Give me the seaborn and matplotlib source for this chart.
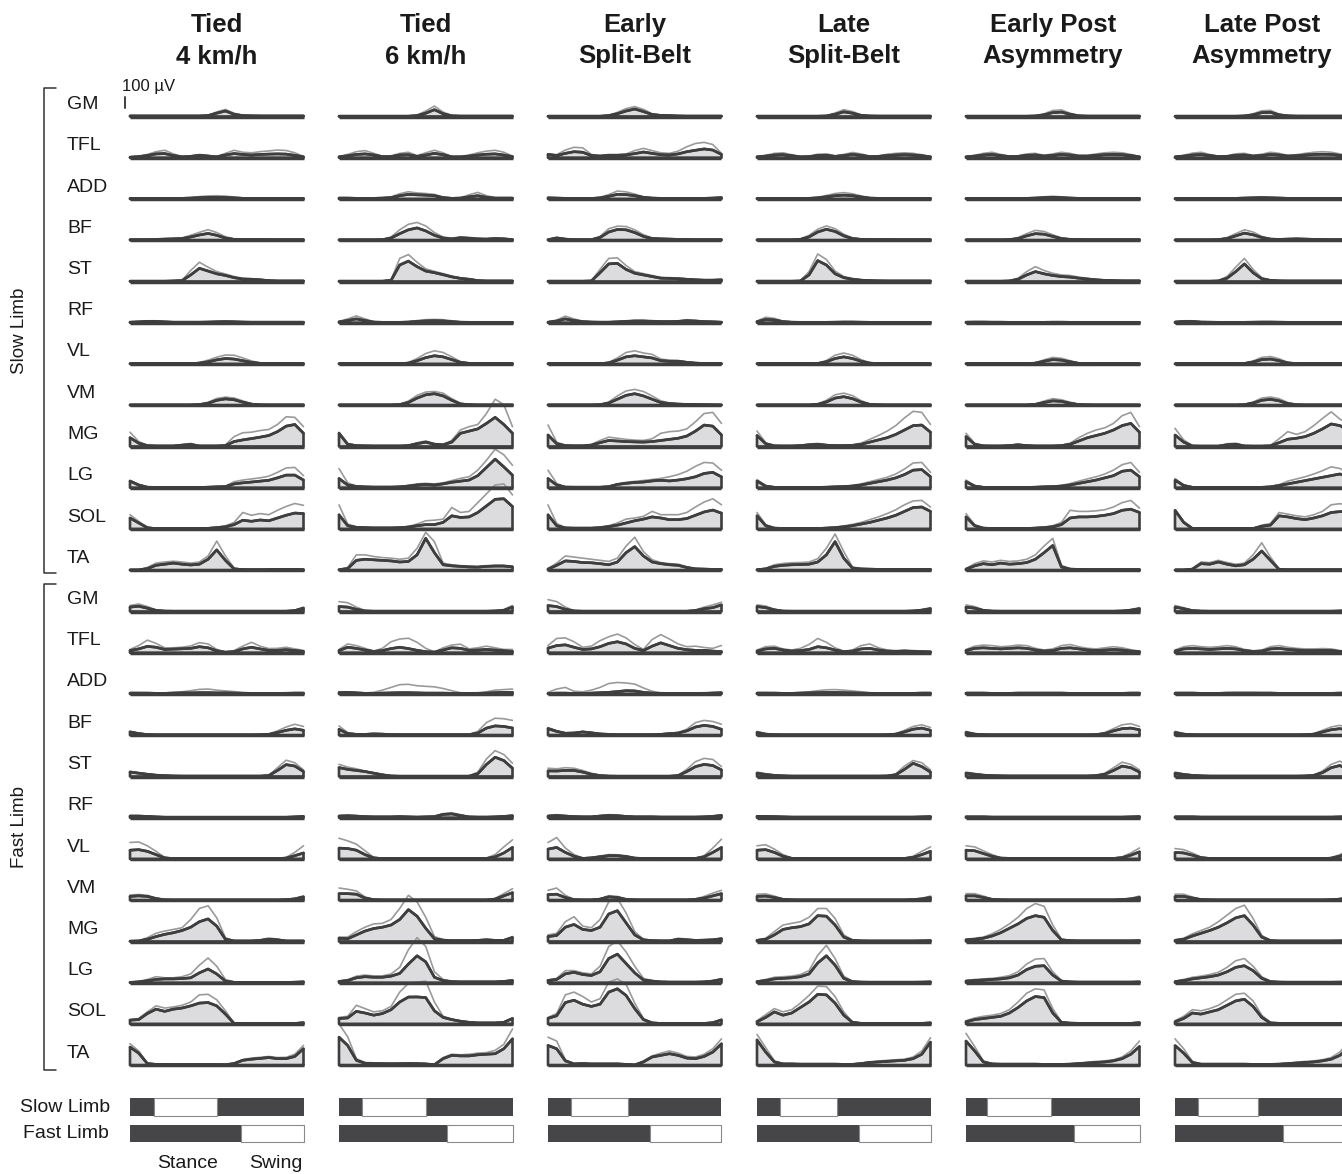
import numpy as np
import pandas as pd
import matplotlib
matplotlib.use("Agg")
import matplotlib.pyplot as plt
from matplotlib.lines import Line2D
import seaborn as sns

# ---------------------------------------------------------------- data
CONDITIONS = [("Tied", "4 km/h"), ("Tied", "6 km/h"), ("Early", "Split-Belt"),
              ("Late", "Split-Belt"), ("Early Post", "Asymmetry"), ("Late Post", "Asymmetry")]
MUSCLES = ["GM", "TFL", "ADD", "BF", "ST", "RF", "VL", "VM", "MG", "LG", "SOL", "TA"]
CYCLE = list(range(0, 101, 5))          # % of gait cycle

# swing phase of the slow limb (start, end) and swing onset of the fast limb, % cycle
SLOW_SWING = [(14, 50), (13, 50), (13, 46), (13, 46), (12, 49), (13, 48)]
FAST_SWING_ON = [64, 62, 59, 59, 62, 62]

# EMG envelopes (µV), one list per muscle in MUSCLES order; *_MEAN = mean, *_UPPER = mean + SD
T4_SLOW_MEAN = [
    [5, 5, 5, 5, 5, 5, 5, 5, 5, 8, 30, 50, 20, 8, 6, 5, 5, 5, 5, 5, 5],
    [5, 10, 20, 35, 38, 20, 8, 12, 22, 15, 8, 25, 38, 30, 25, 30, 33, 35, 33, 22, 8],
    [5, 5, 5, 5, 5, 5, 6, 8, 12, 15, 15, 14, 10, 6, 5, 5, 5, 6, 6, 6, 5],
    [5, 5, 5, 8, 10, 12, 15, 30, 48, 62, 45, 20, 8, 6, 6, 6, 5, 5, 5, 5, 5],
    [3, 3, 3, 3, 3, 5, 8, 60, 120, 95, 70, 55, 35, 22, 20, 15, 8, 5, 5, 5, 5],
    [5, 8, 12, 12, 8, 5, 5, 5, 5, 6, 8, 10, 8, 6, 5, 5, 5, 5, 5, 5, 5],
    [3, 3, 3, 3, 3, 3, 3, 3, 8, 20, 38, 50, 45, 30, 15, 6, 4, 3, 3, 3, 3],
    [3, 3, 3, 3, 3, 3, 3, 3, 6, 18, 45, 58, 50, 28, 10, 4, 3, 3, 3, 3, 3],
    [80, 30, 8, 5, 5, 5, 12, 18, 5, 5, 5, 8, 45, 60, 72, 85, 100, 135, 185, 200, 120],
    [60, 25, 5, 3, 3, 3, 3, 3, 3, 5, 8, 10, 35, 45, 52, 60, 68, 90, 115, 115, 70],
    [100, 55, 12, 3, 3, 3, 3, 3, 3, 6, 12, 20, 40, 80, 70, 82, 75, 100, 125, 145, 140],
    [3, 3, 15, 45, 55, 65, 55, 48, 55, 100, 185, 90, 12, 6, 5, 5, 6, 8, 8, 8, 5],
]
T4_SLOW_UPPER = [
    [8, 8, 8, 8, 8, 8, 8, 8, 8, 12, 42, 64, 30, 12, 10, 8, 8, 8, 8, 8, 8],
    [8, 15, 30, 55, 68, 35, 12, 18, 30, 22, 12, 40, 68, 50, 45, 55, 62, 70, 66, 45, 12],
    [8, 8, 8, 8, 8, 8, 10, 14, 22, 28, 30, 26, 18, 10, 8, 8, 8, 10, 10, 10, 8],
    [8, 8, 8, 12, 15, 18, 22, 45, 72, 96, 70, 32, 12, 10, 10, 10, 8, 8, 8, 8, 8],
    [5, 5, 5, 5, 5, 8, 12, 100, 175, 130, 90, 68, 45, 30, 26, 20, 12, 8, 8, 8, 8],
    [8, 12, 18, 18, 12, 8, 8, 8, 8, 10, 14, 16, 14, 10, 8, 8, 8, 8, 8, 8, 8],
    [5, 5, 5, 5, 5, 5, 5, 6, 14, 35, 62, 82, 80, 55, 28, 10, 6, 5, 5, 5, 5],
    [5, 5, 5, 5, 5, 5, 5, 6, 10, 28, 62, 74, 66, 40, 15, 6, 5, 5, 5, 5, 5],
    [130, 45, 12, 8, 8, 8, 18, 28, 8, 8, 8, 15, 90, 125, 130, 145, 155, 200, 270, 265, 180],
    [68, 30, 8, 5, 5, 5, 5, 5, 5, 8, 12, 15, 55, 70, 80, 90, 105, 140, 180, 185, 110],
    [130, 70, 15, 5, 5, 5, 5, 5, 5, 10, 18, 28, 60, 150, 125, 140, 130, 170, 205, 232, 215],
    [5, 5, 25, 65, 75, 82, 75, 65, 75, 130, 265, 130, 20, 8, 8, 8, 8, 10, 10, 10, 8],
]
T4_FAST_MEAN = [
    [40, 48, 30, 10, 4, 3, 3, 3, 3, 3, 3, 3, 3, 3, 3, 3, 3, 3, 3, 8, 30],
    [20, 35, 58, 50, 30, 33, 36, 40, 55, 45, 18, 5, 10, 35, 50, 35, 22, 22, 28, 20, 12],
    [8, 8, 8, 6, 6, 8, 10, 10, 12, 12, 10, 10, 8, 6, 5, 5, 5, 5, 6, 8, 8],
    [30, 15, 6, 4, 4, 4, 4, 4, 4, 4, 4, 4, 4, 4, 4, 5, 8, 25, 45, 58, 45],
    [40, 30, 20, 12, 8, 5, 4, 4, 4, 4, 4, 4, 4, 4, 4, 4, 8, 55, 108, 95, 45],
    [15, 15, 12, 8, 5, 5, 5, 5, 5, 5, 5, 5, 5, 5, 5, 5, 5, 5, 5, 8, 12],
    [80, 85, 70, 40, 10, 4, 3, 3, 3, 3, 3, 3, 3, 3, 3, 3, 3, 3, 8, 30, 55],
    [35, 40, 35, 15, 4, 3, 3, 3, 3, 3, 3, 3, 3, 3, 3, 3, 3, 3, 5, 12, 30],
    [3, 5, 20, 45, 65, 80, 100, 130, 180, 205, 140, 20, 5, 5, 5, 10, 20, 15, 5, 5, 5],
    [3, 8, 18, 30, 35, 35, 38, 45, 90, 125, 80, 15, 4, 3, 3, 3, 3, 3, 3, 5, 8],
    [35, 40, 95, 135, 115, 135, 145, 165, 190, 195, 165, 90, 5, 3, 3, 3, 3, 3, 3, 5, 12],
    [165, 110, 15, 8, 8, 6, 6, 6, 6, 6, 6, 5, 15, 45, 55, 62, 70, 60, 60, 80, 150],
]
T4_FAST_UPPER = [
    [55, 68, 45, 15, 6, 5, 5, 5, 5, 5, 5, 5, 5, 5, 5, 5, 5, 5, 5, 12, 40],
    [30, 65, 115, 85, 45, 45, 50, 62, 92, 80, 30, 8, 20, 60, 95, 60, 38, 40, 50, 35, 22],
    [12, 12, 10, 10, 10, 14, 20, 30, 42, 45, 35, 28, 22, 15, 10, 10, 10, 10, 12, 12, 12],
    [35, 20, 10, 6, 6, 6, 6, 6, 6, 6, 6, 6, 6, 6, 6, 8, 12, 40, 75, 100, 80],
    [48, 35, 25, 15, 10, 7, 6, 6, 6, 6, 6, 6, 6, 6, 6, 6, 12, 80, 148, 125, 60],
    [20, 20, 16, 10, 8, 8, 8, 8, 8, 8, 8, 8, 8, 8, 8, 8, 8, 8, 8, 10, 15],
    [150, 155, 120, 70, 15, 6, 5, 5, 5, 5, 5, 5, 5, 5, 5, 5, 5, 5, 15, 60, 120],
    [48, 52, 45, 20, 6, 5, 5, 5, 5, 5, 5, 5, 5, 5, 5, 5, 5, 5, 8, 18, 40],
    [5, 8, 35, 75, 95, 110, 125, 200, 300, 325, 215, 35, 8, 8, 8, 15, 32, 22, 8, 8, 8],
    [5, 12, 30, 55, 45, 45, 55, 80, 160, 225, 150, 30, 6, 5, 5, 5, 5, 5, 5, 8, 12],
    [40, 50, 110, 165, 145, 155, 170, 200, 265, 270, 220, 120, 8, 5, 5, 5, 5, 5, 5, 8, 15],
    [195, 130, 20, 10, 10, 8, 8, 8, 8, 8, 8, 8, 20, 52, 65, 72, 80, 70, 72, 100, 180],
]

T6_SLOW_MEAN = [
    [3, 3, 3, 3, 3, 3, 3, 3, 3, 8, 30, 62, 25, 6, 4, 4, 4, 4, 4, 4, 4],
    [8, 18, 30, 35, 25, 10, 10, 25, 28, 12, 25, 40, 28, 8, 8, 15, 25, 32, 35, 25, 10],
    [8, 8, 6, 6, 6, 8, 12, 30, 42, 38, 35, 30, 12, 6, 8, 20, 30, 15, 8, 8, 8],
    [4, 4, 4, 4, 4, 5, 20, 60, 95, 112, 85, 45, 20, 12, 22, 18, 12, 10, 15, 12, 6],
    [3, 3, 3, 3, 3, 3, 10, 150, 185, 135, 95, 80, 62, 42, 28, 20, 8, 5, 5, 5, 5],
    [8, 20, 35, 20, 6, 4, 4, 4, 6, 12, 16, 18, 16, 10, 5, 4, 4, 4, 4, 4, 4],
    [3, 3, 3, 3, 3, 3, 3, 3, 8, 30, 58, 75, 65, 40, 15, 6, 4, 3, 3, 3, 3],
    [3, 3, 3, 3, 3, 3, 3, 6, 25, 65, 95, 105, 85, 45, 12, 5, 3, 3, 3, 3, 3],
    [120, 20, 8, 6, 5, 5, 5, 5, 8, 25, 40, 20, 15, 40, 120, 140, 160, 210, 265, 200, 120],
    [84, 25, 12, 8, 6, 6, 6, 8, 15, 25, 30, 25, 35, 50, 60, 70, 110, 185, 260, 190, 114],
    [129, 30, 15, 12, 10, 10, 10, 12, 18, 30, 40, 40, 60, 120, 105, 110, 150, 210, 270, 275, 204],
    [5, 15, 90, 100, 95, 90, 85, 75, 80, 140, 290, 160, 50, 40, 35, 30, 28, 35, 38, 38, 30],
]
T6_SLOW_UPPER = [
    [5, 5, 5, 5, 5, 5, 5, 5, 5, 12, 50, 95, 40, 10, 6, 6, 6, 6, 6, 6, 6],
    [12, 30, 55, 65, 40, 15, 18, 40, 50, 20, 45, 68, 45, 12, 12, 25, 45, 60, 68, 50, 15],
    [12, 12, 10, 10, 10, 12, 20, 48, 66, 55, 50, 42, 18, 10, 12, 38, 60, 30, 12, 12, 12],
    [6, 6, 6, 6, 6, 8, 30, 95, 145, 162, 130, 70, 30, 18, 32, 26, 18, 15, 22, 18, 10],
    [5, 5, 5, 5, 5, 5, 15, 210, 245, 175, 115, 92, 72, 50, 34, 25, 12, 8, 8, 8, 8],
    [12, 35, 62, 35, 10, 6, 6, 6, 10, 20, 28, 30, 28, 18, 8, 6, 6, 6, 6, 6, 6],
    [5, 5, 5, 5, 5, 5, 5, 5, 14, 50, 95, 120, 105, 65, 22, 8, 6, 5, 5, 5, 5],
    [5, 5, 5, 5, 5, 5, 5, 10, 38, 90, 120, 125, 110, 60, 18, 8, 5, 5, 5, 5, 5],
    [130, 28, 10, 8, 7, 7, 7, 7, 12, 35, 50, 28, 20, 55, 150, 180, 200, 300, 430, 380, 180],
    [174, 45, 15, 10, 8, 8, 8, 12, 22, 35, 40, 35, 45, 65, 85, 100, 160, 250, 350, 300, 204],
    [219, 45, 20, 15, 12, 12, 12, 15, 22, 45, 75, 80, 90, 195, 150, 160, 240, 320, 400, 410, 310],
    [8, 25, 140, 140, 125, 115, 110, 100, 110, 200, 345, 260, 65, 50, 42, 38, 35, 42, 45, 45, 38],
]
T6_FAST_MEAN = [
    [45, 40, 20, 5, 3, 3, 3, 3, 3, 3, 3, 3, 3, 3, 3, 3, 3, 3, 5, 10, 40],
    [20, 50, 40, 25, 12, 20, 38, 50, 38, 22, 10, 6, 25, 45, 40, 22, 25, 30, 25, 18, 12],
    [12, 15, 10, 6, 5, 8, 10, 12, 12, 10, 8, 8, 8, 6, 5, 5, 5, 8, 12, 15, 15],
    [54, 15, 8, 8, 12, 10, 6, 5, 5, 5, 5, 5, 5, 5, 5, 5, 20, 65, 85, 80, 66],
    [81, 65, 55, 45, 30, 15, 5, 3, 3, 3, 3, 3, 3, 3, 3, 3, 25, 110, 175, 145, 75],
    [15, 18, 15, 10, 8, 8, 8, 10, 8, 6, 8, 10, 30, 35, 20, 8, 6, 6, 8, 12, 18],
    [99, 95, 80, 40, 10, 4, 3, 3, 3, 3, 3, 3, 3, 3, 3, 3, 3, 5, 20, 55, 105],
    [60, 60, 55, 20, 5, 3, 3, 3, 3, 3, 3, 3, 3, 3, 3, 3, 3, 3, 10, 40, 69],
    [30, 25, 60, 95, 118, 130, 150, 200, 290, 230, 120, 25, 12, 8, 8, 8, 10, 15, 10, 10, 36],
    [12, 20, 45, 55, 50, 50, 60, 85, 170, 245, 190, 50, 20, 10, 8, 8, 8, 8, 8, 12, 20],
    [50, 55, 115, 100, 80, 95, 130, 200, 245, 246, 240, 120, 60, 40, 25, 15, 10, 10, 10, 15, 50],
    [255, 180, 45, 18, 15, 14, 13, 14, 15, 14, 12, 5, 60, 90, 85, 85, 95, 100, 105, 150, 240],
]
T6_FAST_UPPER = [
    [90, 80, 40, 10, 5, 5, 5, 5, 5, 5, 5, 5, 5, 5, 5, 5, 5, 5, 8, 18, 55],
    [30, 80, 65, 40, 15, 40, 100, 125, 132, 95, 40, 8, 45, 70, 78, 35, 45, 60, 45, 30, 30],
    [20, 20, 15, 10, 15, 35, 60, 85, 88, 75, 70, 65, 50, 30, 12, 10, 12, 20, 35, 40, 45],
    [84, 25, 12, 12, 16, 14, 8, 7, 7, 7, 7, 7, 7, 7, 7, 8, 35, 115, 155, 150, 135],
    [111, 85, 70, 50, 35, 20, 8, 5, 5, 5, 5, 5, 5, 5, 5, 6, 40, 160, 235, 200, 120],
    [20, 22, 18, 12, 10, 10, 10, 14, 10, 8, 10, 14, 38, 45, 28, 10, 8, 8, 10, 15, 22],
    [189, 165, 135, 75, 15, 6, 5, 5, 5, 5, 5, 5, 5, 5, 5, 5, 5, 8, 40, 110, 174],
    [111, 100, 85, 30, 8, 5, 5, 5, 5, 5, 5, 5, 5, 5, 5, 5, 5, 5, 18, 60, 105],
    [40, 40, 90, 130, 160, 165, 200, 300, 420, 360, 220, 45, 18, 12, 12, 12, 15, 20, 15, 15, 45],
    [15, 28, 60, 70, 62, 62, 80, 140, 300, 410, 330, 100, 30, 15, 10, 10, 10, 10, 10, 15, 25],
    [60, 70, 170, 140, 110, 120, 160, 290, 370, 380, 390, 200, 70, 45, 30, 20, 12, 12, 12, 20, 55],
    [375, 260, 60, 25, 22, 20, 18, 20, 22, 20, 15, 8, 70, 100, 95, 100, 110, 115, 135, 190, 330],
]

ESB_SLOW_MEAN = [
    [3, 3, 3, 3, 3, 3, 3, 8, 25, 50, 68, 45, 18, 10, 8, 5, 4, 4, 4, 4, 4],
    [30, 20, 40, 55, 50, 20, 15, 22, 22, 25, 38, 52, 40, 28, 25, 35, 55, 68, 80, 70, 30],
    [10, 8, 6, 5, 5, 5, 10, 25, 42, 40, 30, 15, 8, 6, 6, 6, 6, 6, 6, 8, 12],
    [5, 20, 10, 5, 5, 5, 25, 75, 98, 95, 70, 35, 15, 12, 10, 8, 6, 5, 5, 5, 5],
    [3, 3, 3, 3, 3, 5, 80, 160, 165, 110, 75, 60, 45, 30, 28, 25, 20, 15, 12, 12, 15],
    [5, 15, 35, 20, 10, 6, 5, 5, 8, 12, 15, 15, 12, 10, 10, 12, 18, 15, 10, 8, 5],
    [3, 3, 3, 3, 3, 3, 3, 10, 35, 65, 75, 65, 55, 30, 25, 25, 15, 8, 5, 4, 3],
    [3, 3, 3, 3, 3, 3, 5, 20, 55, 90, 105, 85, 55, 25, 15, 10, 8, 6, 5, 4, 3],
    [105, 25, 8, 6, 6, 12, 35, 55, 50, 45, 42, 40, 45, 55, 65, 75, 95, 140, 195, 185, 105],
    [84, 25, 6, 5, 5, 5, 5, 10, 30, 40, 48, 52, 62, 68, 62, 70, 82, 100, 130, 140, 99],
    [129, 30, 10, 8, 8, 8, 12, 22, 35, 55, 75, 90, 110, 100, 85, 85, 95, 125, 155, 172, 144],
    [10, 45, 85, 80, 70, 68, 60, 50, 75, 160, 215, 130, 75, 60, 50, 45, 25, 12, 10, 8, 8],
]
ESB_SLOW_UPPER = [
    [5, 5, 5, 5, 5, 5, 5, 12, 38, 72, 90, 65, 25, 14, 12, 8, 6, 6, 6, 6, 6],
    [35, 28, 70, 95, 90, 30, 20, 30, 30, 35, 65, 85, 65, 45, 40, 60, 100, 130, 140, 120, 40],
    [15, 12, 10, 8, 8, 8, 15, 40, 72, 65, 45, 20, 12, 10, 10, 10, 10, 10, 10, 12, 18],
    [8, 28, 15, 8, 8, 8, 35, 105, 128, 125, 95, 50, 22, 18, 15, 12, 10, 8, 8, 8, 8],
    [5, 5, 5, 5, 5, 8, 110, 210, 215, 145, 90, 72, 55, 38, 35, 32, 25, 20, 15, 15, 18],
    [8, 25, 60, 35, 15, 10, 8, 8, 12, 18, 24, 24, 20, 15, 15, 18, 28, 22, 15, 12, 8],
    [5, 5, 5, 5, 5, 5, 5, 15, 55, 105, 120, 100, 88, 45, 35, 32, 20, 12, 8, 6, 5],
    [5, 5, 5, 5, 5, 5, 8, 30, 85, 130, 144, 125, 85, 40, 22, 15, 12, 10, 8, 6, 5],
    [195, 40, 12, 10, 10, 20, 55, 85, 75, 65, 58, 55, 70, 120, 135, 140, 160, 225, 300, 310, 210],
    [159, 40, 8, 7, 7, 7, 7, 12, 35, 50, 58, 66, 75, 85, 100, 120, 150, 195, 230, 225, 159],
    [219, 50, 12, 10, 10, 10, 18, 30, 55, 90, 100, 115, 160, 130, 130, 130, 150, 200, 245, 275, 220],
    [15, 65, 130, 120, 110, 100, 90, 80, 110, 220, 300, 170, 95, 70, 60, 55, 32, 18, 15, 12, 12],
]
ESB_FAST_MEAN = [
    [54, 45, 20, 5, 3, 3, 3, 3, 3, 3, 3, 3, 3, 3, 3, 3, 3, 8, 25, 35, 60],
    [42, 65, 72, 50, 30, 35, 55, 85, 100, 80, 40, 20, 60, 90, 65, 40, 28, 22, 22, 15, 10],
    [5, 8, 8, 5, 5, 8, 12, 15, 22, 30, 28, 15, 8, 5, 5, 5, 5, 5, 5, 8, 10],
    [60, 35, 18, 20, 30, 22, 12, 8, 5, 5, 5, 5, 5, 8, 15, 20, 40, 75, 90, 80, 54],
    [51, 50, 55, 55, 40, 20, 8, 4, 3, 3, 3, 3, 3, 3, 3, 8, 45, 90, 110, 100, 60],
    [15, 20, 15, 10, 8, 8, 15, 20, 18, 12, 8, 8, 8, 6, 6, 6, 6, 6, 8, 12, 20],
    [90, 105, 60, 25, 5, 10, 20, 30, 30, 22, 8, 5, 4, 3, 3, 3, 3, 5, 20, 60, 105],
    [51, 55, 25, 5, 3, 3, 10, 30, 25, 8, 4, 3, 3, 3, 3, 3, 3, 8, 20, 40, 60],
    [45, 55, 130, 155, 110, 100, 130, 250, 280, 170, 60, 15, 8, 6, 6, 20, 15, 10, 12, 15, 25],
    [21, 30, 81, 95, 75, 66, 100, 220, 260, 175, 90, 25, 15, 8, 6, 6, 6, 6, 8, 15, 30],
    [51, 75, 195, 216, 180, 160, 180, 290, 320, 260, 140, 40, 10, 5, 5, 5, 5, 5, 5, 12, 36],
    [180, 150, 40, 12, 15, 12, 12, 12, 12, 8, 3, 30, 75, 90, 105, 90, 65, 60, 80, 120, 195],
]
ESB_FAST_UPPER = [
    [108, 90, 40, 8, 5, 5, 5, 5, 5, 5, 5, 5, 5, 5, 5, 5, 5, 15, 40, 60, 84],
    [66, 130, 135, 100, 50, 60, 110, 145, 170, 135, 75, 30, 120, 165, 125, 80, 55, 60, 48, 40, 66],
    [15, 45, 60, 25, 20, 35, 60, 95, 105, 100, 90, 55, 25, 12, 10, 10, 10, 10, 12, 15, 20],
    [70, 42, 22, 25, 35, 26, 15, 10, 7, 7, 7, 7, 7, 10, 18, 25, 55, 115, 135, 125, 100],
    [75, 70, 80, 75, 55, 30, 12, 6, 5, 5, 5, 5, 5, 5, 5, 12, 65, 135, 165, 155, 90],
    [20, 28, 20, 15, 12, 12, 20, 28, 25, 16, 12, 12, 12, 10, 10, 10, 10, 10, 12, 18, 28],
    [150, 195, 100, 40, 10, 15, 28, 40, 38, 30, 12, 8, 6, 5, 5, 5, 5, 8, 30, 100, 180],
    [90, 111, 45, 8, 5, 5, 15, 42, 35, 12, 6, 5, 5, 5, 5, 5, 5, 12, 35, 65, 90],
    [60, 75, 180, 225, 140, 125, 200, 360, 390, 260, 90, 20, 10, 8, 8, 30, 22, 15, 16, 20, 30],
    [25, 40, 110, 110, 90, 80, 150, 330, 380, 280, 150, 40, 20, 10, 8, 8, 8, 8, 10, 20, 38],
    [60, 95, 265, 290, 250, 200, 230, 380, 410, 360, 190, 50, 15, 8, 8, 8, 8, 8, 8, 15, 45],
    [255, 220, 50, 15, 20, 15, 15, 15, 15, 12, 5, 40, 85, 110, 130, 110, 80, 75, 100, 150, 240],
]

LSB_SLOW_MEAN = [
    [3, 3, 3, 3, 3, 3, 3, 3, 5, 20, 42, 30, 10, 5, 4, 4, 4, 4, 4, 4, 4],
    [8, 15, 25, 28, 18, 8, 10, 20, 22, 12, 20, 30, 22, 10, 12, 20, 25, 28, 25, 18, 8],
    [5, 5, 5, 5, 5, 5, 6, 10, 20, 30, 35, 30, 18, 8, 6, 5, 5, 5, 5, 5, 5],
    [4, 4, 4, 4, 4, 8, 30, 75, 100, 80, 40, 15, 8, 6, 6, 6, 5, 5, 5, 5, 5],
    [3, 3, 3, 3, 3, 5, 60, 190, 150, 70, 35, 20, 12, 8, 6, 5, 5, 5, 5, 5, 5],
    [10, 30, 25, 10, 5, 4, 4, 4, 4, 5, 6, 6, 5, 4, 4, 4, 4, 4, 4, 4, 4],
    [3, 3, 3, 3, 3, 3, 3, 5, 20, 50, 65, 50, 25, 8, 4, 3, 3, 3, 3, 3, 3],
    [3, 3, 3, 3, 3, 3, 3, 8, 30, 65, 78, 60, 28, 8, 4, 3, 3, 3, 3, 3, 3],
    [100, 25, 6, 5, 5, 8, 15, 20, 12, 8, 8, 10, 20, 40, 60, 80, 110, 150, 190, 195, 130],
    [60, 15, 4, 3, 3, 3, 3, 3, 5, 8, 10, 15, 25, 40, 55, 70, 90, 120, 160, 165, 100],
    [120, 30, 8, 5, 5, 5, 5, 5, 8, 12, 20, 30, 45, 60, 80, 100, 125, 160, 195, 200, 160],
    [5, 12, 35, 45, 50, 52, 55, 75, 140, 260, 110, 20, 12, 10, 8, 8, 8, 8, 8, 8, 8],
]
LSB_SLOW_UPPER = [
    [5, 5, 5, 5, 5, 5, 5, 5, 8, 32, 62, 45, 15, 8, 6, 6, 6, 6, 6, 6, 6],
    [12, 22, 40, 45, 28, 12, 15, 32, 36, 18, 30, 48, 35, 15, 18, 32, 40, 45, 40, 28, 12],
    [8, 8, 8, 8, 8, 8, 10, 16, 32, 50, 58, 48, 28, 12, 10, 8, 8, 8, 8, 8, 8],
    [6, 6, 6, 6, 6, 12, 45, 100, 130, 105, 55, 22, 12, 9, 9, 9, 8, 8, 8, 8, 8],
    [5, 5, 5, 5, 5, 8, 90, 250, 200, 95, 45, 28, 16, 12, 9, 8, 8, 8, 8, 8, 8],
    [15, 50, 40, 15, 8, 6, 6, 6, 6, 8, 10, 10, 8, 6, 6, 6, 6, 6, 6, 6, 6],
    [5, 5, 5, 5, 5, 5, 5, 8, 32, 80, 100, 80, 40, 12, 6, 5, 5, 5, 5, 5, 5],
    [5, 5, 5, 5, 5, 5, 5, 12, 45, 95, 110, 88, 42, 12, 6, 5, 5, 5, 5, 5, 5],
    [140, 35, 8, 7, 7, 12, 22, 28, 16, 12, 12, 15, 30, 65, 100, 140, 190, 260, 320, 310, 200],
    [75, 20, 6, 5, 5, 5, 5, 5, 8, 12, 15, 22, 35, 55, 75, 95, 125, 170, 225, 230, 140],
    [150, 40, 10, 8, 8, 8, 8, 8, 12, 18, 28, 42, 60, 85, 110, 140, 175, 220, 255, 260, 200],
    [8, 18, 50, 62, 68, 70, 75, 105, 200, 330, 170, 30, 15, 12, 10, 10, 10, 10, 10, 10, 10],
]
LSB_FAST_MEAN = [
    [45, 35, 15, 4, 3, 3, 3, 3, 3, 3, 3, 3, 3, 3, 3, 3, 3, 3, 5, 12, 25],
    [15, 35, 40, 25, 15, 20, 30, 55, 45, 25, 10, 15, 35, 40, 25, 15, 12, 15, 12, 10, 8],
    [8, 8, 8, 6, 6, 8, 10, 12, 14, 14, 12, 10, 8, 6, 5, 5, 5, 5, 6, 8, 8],
    [25, 10, 5, 4, 4, 4, 4, 4, 4, 4, 4, 4, 4, 4, 4, 5, 10, 30, 55, 65, 45],
    [30, 18, 10, 6, 4, 4, 4, 4, 4, 4, 4, 4, 4, 4, 4, 5, 15, 65, 120, 90, 40],
    [12, 12, 10, 8, 6, 6, 6, 6, 6, 6, 6, 6, 6, 6, 6, 6, 6, 6, 6, 8, 10],
    [80, 85, 60, 25, 6, 4, 3, 3, 3, 3, 3, 3, 3, 3, 3, 3, 3, 5, 15, 40, 70],
    [35, 38, 25, 8, 4, 3, 3, 3, 3, 3, 3, 3, 3, 3, 3, 3, 3, 3, 6, 12, 25],
    [10, 20, 60, 110, 125, 135, 160, 235, 230, 150, 40, 10, 6, 5, 5, 5, 5, 5, 5, 6, 8],
    [10, 20, 35, 40, 45, 55, 80, 180, 245, 160, 40, 10, 6, 5, 5, 5, 5, 5, 5, 6, 8],
    [20, 60, 110, 80, 100, 150, 200, 270, 265, 190, 80, 15, 6, 5, 5, 5, 5, 5, 5, 6, 10],
    [230, 120, 30, 12, 12, 10, 10, 10, 10, 10, 8, 8, 15, 25, 30, 35, 40, 45, 60, 100, 210],
]
LSB_FAST_UPPER = [
    [60, 50, 20, 6, 5, 5, 5, 5, 5, 5, 5, 5, 5, 5, 5, 5, 5, 5, 8, 18, 35],
    [25, 55, 60, 35, 25, 40, 75, 130, 95, 45, 15, 25, 65, 80, 45, 25, 20, 25, 20, 15, 12],
    [12, 12, 10, 10, 10, 14, 20, 30, 38, 40, 35, 28, 20, 12, 10, 8, 8, 8, 10, 12, 12],
    [35, 15, 8, 6, 6, 6, 6, 6, 6, 6, 6, 6, 6, 6, 6, 8, 15, 45, 80, 95, 70],
    [40, 25, 14, 8, 6, 6, 6, 6, 6, 6, 6, 6, 6, 6, 6, 8, 25, 95, 145, 125, 60],
    [16, 16, 14, 10, 8, 8, 8, 8, 8, 8, 8, 8, 8, 8, 8, 8, 8, 8, 8, 10, 14],
    [120, 130, 90, 40, 10, 6, 5, 5, 5, 5, 5, 5, 5, 5, 5, 5, 5, 8, 25, 70, 110],
    [55, 58, 38, 12, 6, 5, 5, 5, 5, 5, 5, 5, 5, 5, 5, 5, 5, 5, 10, 18, 38],
    [15, 30, 90, 150, 165, 180, 220, 300, 300, 210, 60, 15, 8, 7, 7, 7, 7, 7, 7, 8, 10],
    [15, 30, 50, 55, 60, 75, 110, 250, 340, 220, 60, 15, 8, 7, 7, 7, 7, 7, 7, 8, 10],
    [30, 85, 140, 110, 130, 190, 260, 345, 340, 250, 110, 20, 8, 7, 7, 7, 7, 7, 7, 8, 15],
    [280, 160, 40, 15, 15, 12, 12, 12, 12, 12, 10, 10, 20, 32, 38, 45, 50, 55, 75, 130, 250],
]

EPA_SLOW_MEAN = [
    [3, 3, 3, 3, 3, 3, 3, 3, 5, 15, 35, 40, 20, 6, 4, 4, 4, 4, 4, 4, 4],
    [8, 15, 25, 30, 20, 10, 12, 22, 25, 15, 22, 30, 25, 15, 15, 22, 28, 30, 28, 20, 8],
    [5, 5, 5, 5, 5, 5, 5, 6, 8, 12, 15, 12, 8, 6, 5, 5, 5, 5, 5, 5, 5],
    [4, 4, 4, 4, 4, 6, 15, 40, 60, 55, 35, 15, 8, 6, 5, 5, 5, 5, 5, 5, 5],
    [3, 3, 3, 3, 3, 5, 20, 60, 90, 70, 55, 45, 40, 30, 22, 15, 10, 8, 6, 6, 6],
    [5, 6, 6, 5, 5, 4, 4, 4, 4, 4, 5, 5, 4, 4, 4, 4, 4, 4, 4, 4, 4],
    [3, 3, 3, 3, 3, 3, 3, 3, 8, 25, 40, 35, 20, 6, 4, 3, 3, 3, 3, 3, 3],
    [3, 3, 3, 3, 3, 3, 3, 3, 8, 25, 40, 35, 18, 6, 4, 3, 3, 3, 3, 3, 3],
    [90, 20, 6, 5, 5, 8, 15, 8, 5, 5, 5, 8, 20, 50, 80, 100, 120, 150, 190, 210, 130],
    [55, 15, 4, 3, 3, 3, 3, 3, 5, 8, 10, 15, 25, 40, 55, 70, 90, 110, 150, 160, 100],
    [110, 30, 8, 5, 5, 5, 5, 5, 8, 12, 20, 40, 100, 110, 110, 115, 125, 140, 170, 180, 150],
    [10, 40, 60, 50, 65, 55, 60, 70, 100, 160, 225, 30, 10, 8, 6, 6, 6, 6, 6, 6, 6],
]
EPA_SLOW_UPPER = [
    [5, 5, 5, 5, 5, 5, 5, 5, 8, 25, 55, 60, 30, 10, 6, 6, 6, 6, 6, 6, 6],
    [12, 22, 40, 50, 30, 15, 18, 35, 40, 22, 35, 50, 40, 22, 22, 35, 45, 50, 45, 30, 12],
    [8, 8, 8, 8, 8, 8, 8, 10, 14, 20, 25, 20, 14, 10, 8, 8, 8, 8, 8, 8, 8],
    [6, 6, 6, 6, 6, 9, 25, 60, 90, 80, 50, 22, 12, 9, 8, 8, 8, 8, 8, 8, 8],
    [5, 5, 5, 5, 5, 8, 30, 90, 135, 100, 75, 60, 55, 40, 30, 20, 14, 10, 8, 8, 8],
    [8, 9, 9, 8, 8, 6, 6, 6, 6, 6, 8, 8, 6, 6, 6, 6, 6, 6, 6, 6, 6],
    [5, 5, 5, 5, 5, 5, 5, 5, 12, 38, 60, 52, 30, 10, 6, 5, 5, 5, 5, 5, 5],
    [5, 5, 5, 5, 5, 5, 5, 5, 12, 38, 60, 50, 28, 10, 6, 5, 5, 5, 5, 5, 5],
    [120, 30, 8, 7, 7, 12, 22, 12, 8, 8, 8, 12, 30, 80, 120, 150, 170, 210, 280, 310, 180],
    [70, 20, 6, 5, 5, 5, 5, 5, 8, 12, 15, 22, 38, 60, 80, 100, 125, 160, 210, 230, 140],
    [140, 40, 10, 8, 8, 8, 8, 8, 12, 18, 30, 60, 170, 160, 160, 165, 175, 200, 240, 260, 190],
    [15, 60, 85, 75, 90, 80, 85, 100, 140, 220, 290, 45, 14, 10, 8, 8, 8, 8, 8, 8, 8],
]
EPA_FAST_MEAN = [
    [40, 30, 10, 4, 3, 3, 3, 3, 3, 3, 3, 3, 3, 3, 3, 3, 3, 3, 5, 12, 25],
    [20, 40, 45, 40, 35, 40, 45, 40, 25, 15, 20, 40, 45, 35, 25, 20, 25, 30, 25, 15, 10],
    [8, 8, 8, 6, 6, 6, 8, 8, 8, 8, 8, 8, 6, 6, 5, 5, 5, 5, 6, 8, 8],
    [25, 10, 5, 4, 4, 4, 4, 4, 4, 4, 4, 4, 4, 4, 4, 6, 15, 40, 60, 65, 50],
    [30, 20, 12, 8, 6, 5, 5, 5, 5, 5, 5, 5, 5, 5, 5, 8, 20, 55, 95, 80, 40],
    [8, 8, 8, 6, 6, 6, 6, 6, 6, 6, 6, 6, 6, 6, 6, 6, 6, 6, 6, 8, 10],
    [80, 75, 50, 25, 8, 6, 6, 6, 6, 5, 5, 5, 4, 3, 3, 3, 3, 5, 12, 35, 65],
    [40, 40, 25, 8, 4, 3, 3, 3, 3, 3, 3, 3, 3, 3, 3, 3, 3, 3, 6, 12, 25],
    [15, 20, 30, 50, 80, 120, 160, 210, 235, 220, 100, 15, 8, 6, 6, 6, 6, 6, 6, 6, 8],
    [15, 20, 25, 30, 35, 45, 70, 120, 150, 155, 70, 15, 8, 6, 6, 6, 6, 6, 6, 6, 8],
    [20, 40, 50, 60, 70, 100, 150, 210, 250, 240, 100, 15, 8, 6, 6, 6, 6, 6, 6, 6, 12],
    [220, 130, 30, 12, 10, 10, 10, 10, 10, 8, 8, 8, 10, 15, 20, 25, 30, 40, 60, 100, 170],
]
EPA_FAST_UPPER = [
    [60, 45, 15, 6, 5, 5, 5, 5, 5, 5, 5, 5, 5, 5, 5, 5, 5, 5, 8, 18, 35],
    [30, 60, 70, 65, 55, 60, 70, 65, 40, 25, 35, 65, 75, 55, 40, 35, 45, 55, 45, 28, 15],
    [12, 12, 12, 10, 10, 10, 12, 12, 12, 12, 12, 12, 10, 10, 8, 8, 8, 8, 10, 12, 12],
    [35, 15, 8, 6, 6, 6, 6, 6, 6, 6, 6, 6, 6, 6, 6, 9, 25, 60, 95, 105, 80],
    [40, 28, 16, 12, 8, 7, 7, 7, 7, 7, 7, 7, 7, 7, 7, 12, 30, 80, 130, 110, 60],
    [12, 12, 12, 8, 8, 8, 8, 8, 8, 8, 8, 8, 8, 8, 8, 8, 8, 8, 8, 10, 14],
    [120, 110, 75, 40, 12, 9, 9, 9, 9, 8, 8, 8, 6, 5, 5, 5, 5, 8, 20, 55, 100],
    [60, 60, 38, 12, 6, 5, 5, 5, 5, 5, 5, 5, 5, 5, 5, 5, 5, 5, 10, 18, 38],
    [20, 30, 40, 70, 110, 160, 220, 300, 345, 320, 150, 20, 10, 8, 8, 8, 8, 8, 8, 8, 10],
    [20, 30, 35, 40, 50, 65, 100, 170, 215, 220, 100, 20, 10, 8, 8, 8, 8, 8, 8, 8, 10],
    [30, 55, 70, 80, 95, 130, 200, 280, 320, 310, 140, 20, 10, 8, 8, 8, 8, 8, 8, 8, 15],
    [290, 170, 40, 15, 12, 12, 12, 12, 12, 10, 10, 10, 12, 20, 28, 35, 40, 50, 75, 130, 220],
]

LPA_SLOW_MEAN = [
    [3, 3, 3, 3, 3, 3, 3, 3, 5, 15, 35, 38, 15, 6, 4, 4, 4, 4, 4, 4, 4],
    [8, 15, 25, 30, 20, 10, 12, 22, 25, 15, 20, 30, 25, 15, 18, 25, 30, 32, 30, 22, 8],
    [5, 5, 5, 5, 5, 5, 5, 6, 8, 10, 12, 10, 8, 6, 5, 5, 5, 5, 5, 5, 5],
    [4, 4, 4, 4, 4, 6, 15, 40, 65, 50, 25, 10, 8, 10, 12, 10, 8, 6, 5, 5, 5],
    [3, 3, 3, 3, 3, 5, 30, 90, 160, 80, 25, 10, 6, 5, 5, 5, 5, 5, 5, 5, 5],
    [6, 12, 12, 6, 5, 4, 4, 4, 4, 5, 6, 6, 5, 4, 4, 4, 4, 4, 4, 4, 4],
    [3, 3, 3, 3, 3, 3, 3, 3, 5, 18, 40, 45, 30, 10, 4, 3, 3, 3, 3, 3, 3],
    [3, 3, 3, 3, 3, 3, 3, 3, 5, 20, 45, 54, 40, 15, 5, 3, 3, 3, 3, 3, 3],
    [105, 40, 5, 4, 4, 4, 15, 20, 5, 4, 4, 6, 35, 66, 75, 90, 120, 160, 205, 190, 150],
    [69, 20, 4, 3, 3, 3, 3, 3, 3, 3, 4, 8, 20, 35, 50, 65, 80, 95, 110, 125, 100],
    [170, 60, 5, 4, 4, 4, 4, 4, 4, 4, 25, 35, 120, 110, 95, 85, 100, 120, 150, 158, 158],
    [3, 3, 10, 60, 55, 75, 55, 40, 50, 100, 175, 90, 8, 5, 5, 5, 5, 5, 5, 5, 5],
]
LPA_SLOW_UPPER = [
    [5, 5, 5, 5, 5, 5, 5, 5, 8, 25, 52, 56, 22, 10, 6, 6, 6, 6, 6, 6, 6],
    [12, 22, 42, 50, 30, 15, 18, 36, 40, 22, 32, 50, 40, 22, 28, 40, 50, 55, 50, 35, 12],
    [8, 8, 8, 8, 8, 8, 8, 10, 14, 16, 20, 16, 14, 10, 8, 8, 8, 8, 8, 8, 8],
    [6, 6, 6, 6, 6, 9, 25, 60, 95, 75, 35, 15, 12, 15, 18, 15, 12, 9, 8, 8, 8],
    [5, 5, 5, 5, 5, 8, 45, 130, 210, 110, 35, 14, 8, 7, 7, 7, 7, 7, 7, 7, 7],
    [9, 18, 18, 9, 8, 6, 6, 6, 6, 8, 9, 9, 8, 6, 6, 6, 6, 6, 6, 6, 6],
    [5, 5, 5, 5, 5, 5, 5, 5, 8, 28, 60, 68, 48, 15, 6, 5, 5, 5, 5, 5, 5],
    [5, 5, 5, 5, 5, 5, 5, 5, 8, 30, 65, 75, 60, 25, 8, 5, 5, 5, 5, 5, 5],
    [165, 60, 8, 6, 6, 6, 25, 30, 8, 6, 6, 10, 70, 135, 110, 135, 190, 255, 315, 250, 200],
    [84, 28, 6, 5, 5, 5, 5, 5, 5, 5, 6, 12, 28, 60, 80, 100, 125, 155, 190, 175, 130],
    [175, 70, 8, 6, 6, 6, 6, 6, 6, 6, 35, 50, 150, 135, 120, 110, 130, 160, 220, 230, 216],
    [5, 5, 15, 75, 70, 90, 70, 55, 65, 140, 250, 120, 12, 8, 8, 8, 8, 8, 8, 8, 8],
]
LPA_FAST_MEAN = [
    [40, 25, 8, 4, 3, 3, 3, 3, 3, 3, 3, 3, 3, 3, 3, 3, 3, 3, 3, 5, 8],
    [15, 35, 40, 35, 30, 35, 40, 35, 20, 12, 15, 35, 40, 30, 25, 20, 20, 22, 20, 12, 8],
    [8, 8, 8, 6, 6, 6, 8, 8, 8, 8, 8, 8, 6, 6, 5, 5, 5, 5, 6, 8, 8],
    [25, 10, 5, 4, 4, 4, 4, 4, 4, 4, 4, 4, 4, 4, 4, 5, 10, 30, 50, 60, 45],
    [30, 18, 10, 6, 4, 4, 4, 4, 4, 4, 4, 4, 4, 4, 4, 5, 10, 35, 80, 100, 60],
    [8, 8, 8, 6, 6, 6, 6, 6, 6, 6, 6, 6, 6, 6, 6, 6, 6, 6, 6, 8, 10],
    [60, 55, 35, 12, 5, 3, 3, 3, 3, 3, 3, 3, 3, 3, 3, 3, 3, 3, 8, 25, 50],
    [35, 35, 20, 6, 4, 3, 3, 3, 3, 3, 3, 3, 3, 3, 3, 3, 3, 3, 5, 10, 20],
    [10, 20, 50, 75, 100, 130, 170, 215, 235, 150, 40, 8, 5, 5, 5, 5, 5, 5, 5, 6, 8],
    [10, 20, 35, 45, 55, 70, 100, 140, 155, 110, 40, 10, 6, 5, 5, 5, 5, 5, 5, 6, 8],
    [20, 50, 100, 90, 110, 130, 170, 210, 225, 160, 60, 10, 6, 5, 5, 5, 5, 5, 5, 6, 10],
    [180, 110, 25, 10, 10, 10, 10, 10, 10, 8, 8, 8, 10, 15, 20, 25, 30, 40, 55, 90, 160],
]
LPA_FAST_UPPER = [
    [55, 35, 12, 6, 5, 5, 5, 5, 5, 5, 5, 5, 5, 5, 5, 5, 5, 5, 5, 8, 12],
    [25, 55, 65, 55, 50, 55, 65, 55, 30, 18, 25, 55, 65, 50, 40, 35, 35, 38, 35, 20, 12],
    [12, 12, 12, 10, 10, 10, 12, 14, 14, 14, 12, 12, 10, 10, 8, 8, 8, 8, 10, 12, 12],
    [35, 15, 8, 6, 6, 6, 6, 6, 6, 6, 6, 6, 6, 6, 6, 8, 15, 45, 75, 90, 70],
    [40, 25, 14, 8, 6, 6, 6, 6, 6, 6, 6, 6, 6, 6, 6, 8, 15, 50, 110, 140, 90],
    [12, 12, 12, 8, 8, 8, 8, 8, 8, 8, 8, 8, 8, 8, 8, 8, 8, 8, 8, 10, 14],
    [95, 85, 55, 18, 8, 5, 5, 5, 5, 5, 5, 5, 5, 5, 5, 5, 5, 5, 12, 40, 80],
    [55, 55, 30, 10, 6, 5, 5, 5, 5, 5, 5, 5, 5, 5, 5, 5, 5, 5, 8, 15, 30],
    [15, 30, 70, 100, 130, 180, 240, 300, 330, 210, 55, 12, 7, 7, 7, 7, 7, 7, 7, 8, 10],
    [15, 30, 50, 60, 75, 95, 140, 200, 220, 150, 55, 14, 8, 7, 7, 7, 7, 7, 7, 8, 10],
    [30, 70, 130, 120, 140, 170, 220, 270, 280, 210, 80, 14, 8, 7, 7, 7, 7, 7, 7, 8, 15],
    [240, 150, 35, 12, 12, 12, 12, 12, 12, 10, 10, 10, 12, 20, 28, 35, 40, 50, 70, 120, 210],
]

MEANS = [(T4_SLOW_MEAN, T4_FAST_MEAN), (T6_SLOW_MEAN, T6_FAST_MEAN), (ESB_SLOW_MEAN, ESB_FAST_MEAN),
         (LSB_SLOW_MEAN, LSB_FAST_MEAN), (EPA_SLOW_MEAN, EPA_FAST_MEAN), (LPA_SLOW_MEAN, LPA_FAST_MEAN)]
UPPERS = [(T4_SLOW_UPPER, T4_FAST_UPPER), (T6_SLOW_UPPER, T6_FAST_UPPER), (ESB_SLOW_UPPER, ESB_FAST_UPPER),
          (LSB_SLOW_UPPER, LSB_FAST_UPPER), (EPA_SLOW_UPPER, EPA_FAST_UPPER), (LPA_SLOW_UPPER, LPA_FAST_UPPER)]

# ---------------------------------------------------------------- style / layout
sns.set_theme(style="white")
plt.rcParams["font.family"] = ["Liberation Sans", "DejaVu Sans"]

DARK = "#3e3e3e"
FILL = "#dcdcde"
SD_LINE = "#9a9a9a"
BAR = "#464648"
INK = "#1a1a1a"

W, H = 1342, 1174
PX_PER_UV = 0.11          # vertical scale: 100 µV ~ 11 px
ROW_PX = 41.25            # distance between trace baselines
BASE0 = 116.5             # first baseline (px from top)
COL_X0, COL_PITCH, COL_W = 130, 209, 173.5

fig = plt.figure(figsize=(W / 100, H / 100), dpi=100)
fig.patch.set_facecolor("white")


def fy(py):
    return 1 - py / H


def uv(py):
    """convert a pixel row into the data coordinate of the column axes"""
    return (BASE0 - py) / PX_PER_UV


for c in range(6):
    left = COL_X0 + c * COL_PITCH
    ax = fig.add_axes([left / W, 0, COL_W / W, 1])
    rec = []
    for limb in range(2):
        for m in range(12):
            r = limb * 12 + m
            off = -r * ROW_PX / PX_PER_UV
            mean = np.asarray(MEANS[c][limb][m], float)
            up = np.asarray(UPPERS[c][limb][m], float)
            ax.fill_between(CYCLE, off, off + mean, facecolor=FILL, edgecolor="none",
                            zorder=1, clip_on=False)
            ax.fill_between(CYCLE, off, off + mean, facecolor="none", edgecolor=DARK,
                            lw=1.9, zorder=4, clip_on=False)
            ax.plot([0, 100], [off, off], color=DARK, lw=2.5, zorder=4,
                    solid_capstyle="butt", clip_on=False)
            for p, u_, m_ in zip(CYCLE, up, mean):
                rec.append({"trace": r, "pct": p, "upper": off + u_, "mean": off + m_})
    df = pd.DataFrame(rec)
    sns.lineplot(data=df, x="pct", y="upper", units="trace", estimator=None, color=SD_LINE,
                 lw=1.2, ax=ax, legend=False, zorder=3, clip_on=False)
    sns.lineplot(data=df, x="pct", y="mean", units="trace", estimator=None, color=DARK,
                 lw=1.9, ax=ax, legend=False, zorder=5, clip_on=False)

    # stance / swing bars
    s0, s1 = SLOW_SWING[c]
    fs = FAST_SWING_ON[c]
    ax.broken_barh([(0, s0), (s1, 100 - s1)], (uv(1116), 18 / PX_PER_UV),
                   facecolors=BAR, edgecolor="none", clip_on=False)
    ax.broken_barh([(s0, s1 - s0)], (uv(1116), 18 / PX_PER_UV),
                   facecolors="white", edgecolor="#8a8a8a", lw=0.8, clip_on=False)
    ax.broken_barh([(0, fs)], (uv(1142), 17 / PX_PER_UV),
                   facecolors=BAR, edgecolor="none", clip_on=False)
    ax.broken_barh([(fs, 100 - fs)], (uv(1142), 17 / PX_PER_UV),
                   facecolors="white", edgecolor="#8a8a8a", lw=0.8, clip_on=False)

    if c == 0:
        # 100 µV scale bar
        ax.plot([-2.9, -2.9], [uv(108), uv(108) + 100], color=DARK, lw=1.4, clip_on=False)

    ax.set_xlim(0, 100)
    ax.set_ylim(uv(H), uv(0))
    ax.set_axis_off()

    cx = (left + COL_W / 2) / W
    fig.text(cx, fy(32), CONDITIONS[c][0], ha="center", va="baseline",
             fontsize=18.5, fontweight="bold", color=INK)
    fig.text(cx, fy(63), CONDITIONS[c][1], ha="center", va="baseline",
             fontsize=18.5, fontweight="bold", color=INK)

fig.text(122 / W, fy(91.5), "100 µV", ha="left", va="baseline", fontsize=12, color=INK)

# muscle names
for limb in range(2):
    for m, name in enumerate(MUSCLES):
        r = limb * 12 + m
        fig.text(67 / W, fy(BASE0 + r * ROW_PX - 12), name, ha="left", va="center",
                 fontsize=14, color=INK)

# limb brackets
for top, bot, label in [(88, 573, "Slow Limb"), (584, 1070, "Fast Limb")]:
    xs, ys = [56, 44, 44, 56], [top, top, bot, bot]
    fig.add_artist(Line2D([x / W for x in xs], [fy(y) for y in ys],
                          color="#333333", lw=1.1))
    fig.text(20 / W, fy((top + bot) / 2), label, rotation=90, ha="center", va="center",
             fontsize=13.5, color=INK)

# phase bar legend
fig.text(110 / W, fy(1107), "Slow Limb", ha="right", va="center", fontsize=14, color=INK)
fig.text(109 / W, fy(1133), "Fast Limb", ha="right", va="center", fontsize=14, color=INK)
fig.text(188 / W, fy(1164), "Stance", ha="center", va="center", fontsize=14, color=INK)
fig.text(276 / W, fy(1164), "Swing", ha="center", va="center", fontsize=14, color=INK)

fig.savefig("out.png", dpi=100, facecolor="white")
